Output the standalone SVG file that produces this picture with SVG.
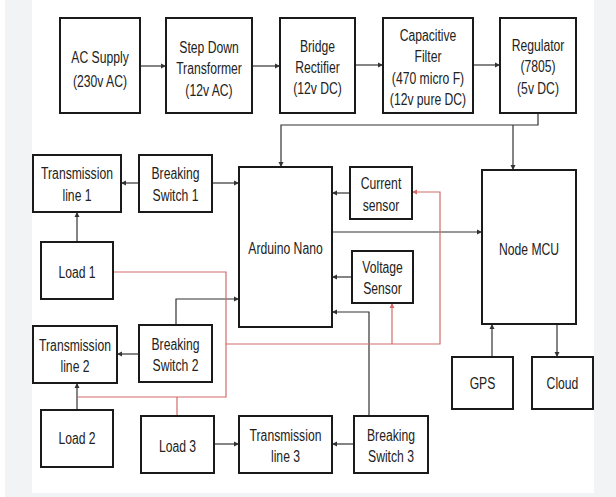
<svg xmlns="http://www.w3.org/2000/svg" width="616" height="497" viewBox="0 0 616 497">
<style>
.bg{fill:#f2f3f5}
.box{fill:#fff;stroke:#1a1a1a;stroke-width:2}
.t{font-family:"Liberation Sans",Arial,sans-serif;font-size:16px;fill:#222;text-anchor:middle}
.k{fill:none;stroke:#333;stroke-width:1.2}
.r{fill:none;stroke:#d46a6a;stroke-width:1.2}
</style>
<defs>
<marker id="ak" markerUnits="userSpaceOnUse" markerWidth="6" markerHeight="6" refX="5" refY="3" orient="auto"><path d="M0,0.5 L5,3 L0,5.5 Z" fill="#333"/></marker>
<marker id="ar" markerUnits="userSpaceOnUse" markerWidth="6" markerHeight="6" refX="5" refY="3" orient="auto"><path d="M0,0.5 L5,3 L0,5.5 Z" fill="#d46a6a"/></marker>
</defs>
<rect width="616" height="497" fill="#fff"/>
<rect class="bg" x="5" y="0" width="27" height="497"/>
<rect class="bg" x="594" y="0" width="22" height="497"/>
<rect class="bg" x="32" y="493" width="562" height="4"/>

<g id="connectors">
<path class="k" d="M140,66 H166" marker-end="url(#ak)"/>
<path class="k" d="M252,66 H280" marker-end="url(#ak)"/>
<path class="k" d="M355,65 H383" marker-end="url(#ak)"/>
<path class="k" d="M473,65 H500" marker-end="url(#ak)"/>
<path class="k" d="M538,113 V125 H281 V167" marker-end="url(#ak)"/>
<path class="k" d="M513,125 V170" marker-end="url(#ak)"/>
<path class="k" d="M139,183 H121" marker-end="url(#ak)"/>
<path class="k" d="M212,183 H239" marker-end="url(#ak)"/>
<path class="k" d="M77,242 V212" marker-end="url(#ak)"/>
<path class="k" d="M350,193 H332" marker-end="url(#ak)"/>
<path class="k" d="M352,277 H332" marker-end="url(#ak)"/>
<path class="k" d="M332,232 H482" marker-end="url(#ak)"/>
<path class="k" d="M176,325 V299 H239" marker-end="url(#ak)"/>
<path class="k" d="M139,354 H117" marker-end="url(#ak)"/>
<path class="k" d="M77,410 V383" marker-end="url(#ak)"/>
<path class="k" d="M214,444 H239" marker-end="url(#ak)"/>
<path class="k" d="M354,444 H332" marker-end="url(#ak)"/>
<path class="k" d="M369,416 V312 H332" marker-end="url(#ak)"/>
<path class="k" d="M492,357 V324" marker-end="url(#ak)"/>
<path class="k" d="M557,324 V357" marker-end="url(#ak)"/>
<path class="r" d="M113,272 H226 V397 H78"/>
<path class="r" d="M177,397 V416"/>
<path class="r" d="M226,344 H440 V192 H412" marker-end="url(#ar)"/>
<path class="r" d="M392,344 V303" marker-end="url(#ar)"/>
</g>

<g id="ac-supply"><rect class="box" x="60" y="18" width="80" height="95"/>
<text class="t" transform="translate(100,63) scale(0.76,1)"><tspan x="0">AC Supply</tspan><tspan x="0" dy="24">(230v AC)</tspan></text></g>
<g id="step-down"><rect class="box" x="166" y="18" width="86" height="95"/>
<text class="t" transform="translate(209,53) scale(0.76,1)"><tspan x="0">Step Down</tspan><tspan x="0" dy="21.5">Transformer</tspan><tspan x="0" dy="21.5">(12v AC)</tspan></text></g>
<g id="bridge"><rect class="box" x="280" y="18" width="75" height="95"/>
<text class="t" transform="translate(317.5,52) scale(0.76,1)"><tspan x="0">Bridge</tspan><tspan x="0" dy="21">Rectifier</tspan><tspan x="0" dy="21">(12v DC)</tspan></text></g>
<g id="cap-filter"><rect class="box" x="383" y="18" width="90" height="95"/>
<text class="t" transform="translate(428,41) scale(0.76,1)"><tspan x="0">Capacitive</tspan><tspan x="0" dy="21.3">Filter</tspan><tspan x="0" dy="21.3">(470 micro F)</tspan><tspan x="0" dy="21.3">(12v pure DC)</tspan></text></g>
<g id="regulator"><rect class="box" x="500" y="18" width="76" height="95"/>
<text class="t" transform="translate(538,51) scale(0.76,1)"><tspan x="0">Regulator</tspan><tspan x="0" dy="21.5">(7805)</tspan><tspan x="0" dy="21.5">(5v DC)</tspan></text></g>

<g id="tl1"><rect class="box" x="33" y="155" width="88" height="57"/>
<text class="t" transform="translate(77,179) scale(0.76,1)"><tspan x="0">Transmission</tspan><tspan x="0" dy="22">line 1</tspan></text></g>
<g id="bs1"><rect class="box" x="139" y="155" width="73" height="57"/>
<text class="t" transform="translate(175.5,179) scale(0.76,1)"><tspan x="0">Breaking</tspan><tspan x="0" dy="22">Switch 1</tspan></text></g>
<g id="load1"><rect class="box" x="41" y="242" width="72" height="57"/>
<text class="t" transform="translate(77,278) scale(0.76,1)">Load 1</text></g>
<g id="arduino"><rect class="box" x="239" y="167" width="93" height="160"/>
<text class="t" transform="translate(285.5,254) scale(0.76,1)">Arduino Nano</text></g>
<g id="current"><rect class="box" x="350" y="167" width="62" height="52"/>
<text class="t" transform="translate(381,189) scale(0.76,1)"><tspan x="0">Current</tspan><tspan x="0" dy="22">sensor</tspan></text></g>
<g id="voltage"><rect class="box" x="352" y="251" width="61" height="52"/>
<text class="t" transform="translate(382.5,273) scale(0.76,1)"><tspan x="0">Voltage</tspan><tspan x="0" dy="21.5">Sensor</tspan></text></g>
<g id="nodemcu"><rect class="box" x="482" y="170" width="94" height="154"/>
<text class="t" transform="translate(529,255) scale(0.76,1)">Node MCU</text></g>

<g id="tl2"><rect class="box" x="33" y="326" width="84" height="57"/>
<text class="t" transform="translate(75,351) scale(0.76,1)"><tspan x="0">Transmission</tspan><tspan x="0" dy="21">line 2</tspan></text></g>
<g id="bs2"><rect class="box" x="139" y="325" width="73" height="57"/>
<text class="t" transform="translate(175.5,350) scale(0.76,1)"><tspan x="0">Breaking</tspan><tspan x="0" dy="21">Switch 2</tspan></text></g>
<g id="load2"><rect class="box" x="41" y="410" width="72" height="57"/>
<text class="t" transform="translate(77,444) scale(0.76,1)">Load 2</text></g>
<g id="load3"><rect class="box" x="141" y="416" width="73" height="57"/>
<text class="t" transform="translate(177.5,452) scale(0.76,1)">Load 3</text></g>
<g id="tl3"><rect class="box" x="239" y="416" width="93" height="57"/>
<text class="t" transform="translate(285.5,441) scale(0.76,1)"><tspan x="0">Transmission</tspan><tspan x="0" dy="21">line 3</tspan></text></g>
<g id="bs3"><rect class="box" x="354" y="416" width="74" height="57"/>
<text class="t" transform="translate(391,441) scale(0.76,1)"><tspan x="0">Breaking</tspan><tspan x="0" dy="21">Switch 3</tspan></text></g>
<g id="gps"><rect class="box" x="452" y="357" width="61" height="52"/>
<text class="t" transform="translate(482.5,389) scale(0.76,1)">GPS</text></g>
<g id="cloud"><rect class="box" x="532" y="357" width="61" height="52"/>
<text class="t" transform="translate(562.5,389) scale(0.76,1)">Cloud</text></g>
</svg>
